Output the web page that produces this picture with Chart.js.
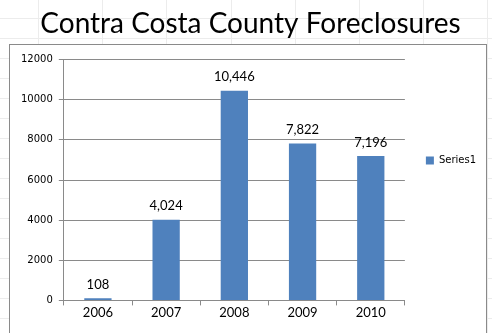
<!DOCTYPE html>
<html>
<head>
<meta charset="utf-8">
<script src="https://cdn.jsdelivr.net/npm/chart.js@4"></script>
<style>
  html, body { margin: 0; padding: 0; }
  body {
    width: 492px; height: 333px; overflow: hidden; position: relative;
    background-color: #fff;
    background-image:
      repeating-linear-gradient(to right, transparent 0, transparent 38px, #ececec 38px, #ececec 39px, transparent 39px, transparent 64.2px),
      repeating-linear-gradient(to bottom, transparent 0, transparent 18px, #ececec 18px, #ececec 19px, transparent 19px, transparent 20px);
  }
  #frame {
    position: absolute; left: 9px; top: 44px; width: 476px; height: 300px;
    border: 1px solid #8a8a8a; background: #fff;
  }
  #myChart { position: absolute; left: 0; top: 0; }
</style>
</head>
<body>
<div id="frame"></div>
<canvas id="myChart" width="492" height="333"></canvas>
<script>
const chartTitle = 'Contra Costa County Foreclosures';
const years = ['2006', '2007', '2008', '2009', '2010'];
const foreclosures = [108, 4024, 10446, 7822, 7196];
const seriesName = 'Series1';
const yTicks = [0, 2000, 4000, 6000, 8000, 10000, 12000];

// draws the value above each bar
const barLabels = {
    id: 'barLabels',
    afterDatasetsDraw(chart) {
        const ctx = chart.ctx;
        const meta = chart.getDatasetMeta(0);
        ctx.save();
        ctx.font = '13px Lato, "Open Sans", sans-serif';
        ctx.fillStyle = '#000';
        ctx.textAlign = 'center';
        ctx.textBaseline = 'bottom';
        meta.data.forEach((bar, i) => {
            ctx.fillText(foreclosures[i].toLocaleString('en-US'), bar.x, bar.y - 7);
        });
        ctx.restore();
    }
};

const ctx = document.getElementById('myChart').getContext('2d');
const myChart = new Chart(ctx, {
    type: 'bar',
    data: {
        labels: years,
        datasets: [{
            label: seriesName,
            data: foreclosures,
            backgroundColor: '#4f81bd',
            borderWidth: 0,
            barPercentage: 0.4,
            categoryPercentage: 1
        }]
    },
    options: {
        responsive: false,
        animation: false,
        layout: { padding: { left: 15, right: 6, top: 0, bottom: 12 } },
        plugins: {
            title: {
                display: true,
                text: chartTitle,
                color: '#000',
                font: { family: 'Lato, "Open Sans", sans-serif', size: 28, weight: 'normal' },
                padding: { top: 7, bottom: 19 }
            },
            legend: {
                position: 'right',
                labels: {
                    boxWidth: 8,
                    boxHeight: 8,
                    color: '#000',
                    font: { family: '"DejaVu Sans", sans-serif', size: 10 },
                    padding: 21
                }
            },
            tooltip: { enabled: false }
        },
        scales: {
            x: {
                grid: { display: true, drawOnChartArea: false, drawTicks: true, tickLength: 5, color: '#8a8a8a' },
                border: { color: '#8a8a8a' },
                ticks: { color: '#000', font: { family: 'Lato, "Open Sans", sans-serif', size: 13 }, padding: 0 }
            },
            y: {
                min: 0,
                max: 12000,
                afterBuildTicks: (scale) => { scale.ticks = yTicks.map(v => ({ value: v })); },
                grid: { color: '#8a8a8a', tickLength: 5 },
                border: { color: '#8a8a8a' },
                ticks: {
                    color: '#000',
                    font: { family: '"DejaVu Sans", sans-serif', size: 10 },
                    padding: 6,
                    callback: (v) => String(v)
                }
            }
        }
    },
    plugins: [barLabels]
});
</script>
</body>
</html>
